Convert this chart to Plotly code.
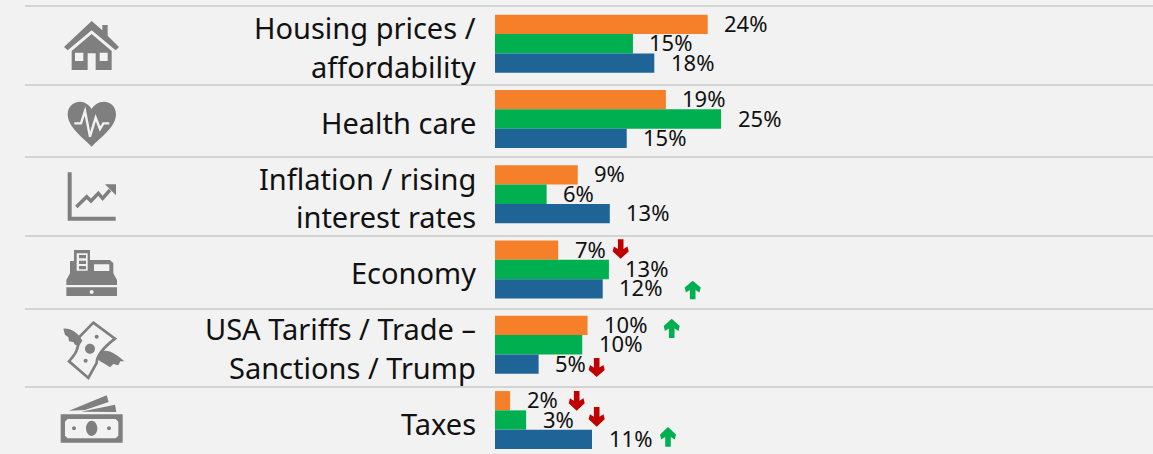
import re
import plotly.graph_objects as go

categories = ["Housing prices /|affordability", "Health care", "Inflation / rising|interest rates",
              "Economy", "USA Tariffs / Trade –|Sanctions / Trump", "Taxes"]
series_orange = [23.9, 19.2, 9.3, 7.1, 10.4, 1.7]
series_green = [15.5, 25.4, 5.8, 12.8, 9.8, 3.5]
series_blue = [17.9, 14.8, 12.9, 12.1, 4.9, 10.9]
labels_orange = ["24%", "19%", "9%", "7%", "10%", "2%"]
labels_green = ["15%", "25%", "6%", "13%", "10%", "3%"]
labels_blue = ["18%", "15%", "13%", "12%", "5%", "11%"]
series_colors = ["#F58029", "#00B050", "#1F6496"]
rule_rows = [6, 85, 157, 236, 309, 387]

W, H, L = 1153, 454, 495
BG, GREY = "#F2F2F2", "#7F7F7F"
PX_PER_PCT = 8.9
PITCH, FIRST = 75.25, 43.75
THICK = 19.3 / PITCH
yidx = list(range(len(categories)))

fig = go.Figure()
for vals, col in zip([series_orange, series_green, series_blue], series_colors):
    fig.add_bar(x=vals, y=yidx, orientation="h", marker=dict(color=col, line_width=0))

annotations = []
FONT = "Noto Sans"
for k, (vals, labs) in enumerate(zip([series_orange, series_green, series_blue],
                                     [labels_orange, labels_green, labels_blue])):
    for i, (v, t) in enumerate(zip(vals, labs)):
        annotations.append(dict(x=v, y=i + (k - 1) * THICK, xref="x", yref="y", text=t, showarrow=False,
                                xanchor="left", yanchor="middle", xshift=14.5, yshift=1.5,
                                font=dict(family=FONT, size=22, color="#111111")))
for i, c in enumerate(categories):
    parts = c.split("|")
    for j, p in enumerate(parts):
        off = (j - (len(parts) - 1) / 2) * 38.5 + 3.8
        annotations.append(dict(x=0, y=i, xref="x", yref="y", text=p, showarrow=False, xanchor="right",
                                yanchor="middle", xshift=-17, yshift=-off + 0.5,
                                font=dict(family=FONT, size=29, color="#111111")))


def pth(ox, oy, s):
    """zoomed icon sketch units (3x) to paper coordinates"""
    toks = re.findall(r"[MLCZ]|-?\d+\.?\d*", s)
    res, isx = "", True
    for t in toks:
        if t in "MLCZ":
            res += t
            isx = True
        else:
            v = float(t)
            if isx:
                res += f"{((ox + v / 3) - L) / (W - L):.5f},"
            else:
                res += f"{1 - (oy + v / 3) / H:.5f} "
            isx = not isx
    return res


def ell(cx, cy, rx, ry=None):
    ry = ry or rx
    k = 0.5523
    return (f"M{cx-rx} {cy} C{cx-rx} {cy-k*ry} {cx-k*rx} {cy-ry} {cx} {cy-ry} "
            f"C{cx+k*rx} {cy-ry} {cx+rx} {cy-k*ry} {cx+rx} {cy} "
            f"C{cx+rx} {cy+k*ry} {cx+k*rx} {cy+ry} {cx} {cy+ry} "
            f"C{cx-k*rx} {cy+ry} {cx-rx} {cy+k*ry} {cx-rx} {cy} Z ")


def rect(a, b, c, d):
    return f"M{a} {b} L{c} {b} L{c} {d} L{a} {d} Z "


shapes = []


def add_fill(ox, oy, s, col=GREY):
    shapes.append(dict(type="path", xref="paper", yref="paper", path=pth(ox, oy, s), fillcolor=col,
                       line=dict(width=0), layer="above"))


def add_line(ox, oy, s, col=GREY, w=2.5):
    shapes.append(dict(type="path", xref="paper", yref="paper", path=pth(ox, oy, s),
                       fillcolor="rgba(0,0,0,0)", line=dict(width=w, color=col), layer="above"))


for r in rule_rows:
    shapes.append(dict(type="line", xref="paper", yref="paper", x0=(25 - L) / (W - L), x1=1,
                       y0=1 - r / H, y1=1 - r / H, line=dict(color="#C9C9C9", width=1.5), layer="below"))

# house
add_fill(55, 15, "M110 18 L142 46 L142 30 L158 30 L158 62 L192 96 L182 106 L110 46 L38 106 L27 96 Z")
add_fill(55, 15, "M50 108 L110 57 L170 108 L170 165 L122 165 L122 115 L98 115 L98 165 L50 165 Z "
         + rect(60, 113, 85, 138) + rect(134, 113, 158, 138))
# heart
add_fill(55, 95, "M110 155 C80 125 38 95 38 58 C38 35 55 20 75 20 C90 20 103 30 110 42 "
                 "C117 30 130 20 147 20 C167 20 183 35 183 58 C183 95 140 125 110 155 Z")
add_line(55, 95, "M58 85 L78 85 L90 48 L105 125 L122 68 L135 102 L145 85 L163 85", BG, 2.4)
# trend chart
add_fill(55, 165, "M38 22 L50 22 L50 155 L182 155 L182 167 L38 167 Z")
add_fill(55, 165, "M150 58 L183 58 L183 91 Z")
add_line(55, 165, "M64 126 L95 95 L108 108 L130 85 L143 100 L165 75", GREY, 3.5)
# cash register
add_fill(55, 245, "M57 15 L105 15 L105 45 L165 45 L175 55 L175 85 L186 105 L186 120 L34 120 L34 105 L45 85 L45 48 L57 48 Z "
         + rect(65, 25, 98, 77) + rect(117, 58, 163, 78))
add_fill(55, 245, rect(72, 30, 93, 40) + rect(72, 47, 93, 57) + rect(72, 63, 93, 73))
add_fill(55, 245, rect(34, 127, 186, 153) + ell(110, 141, 6))
# flying money
add_line(55, 318, "M115 14 L180 62 C150 85 125 110 125 135 L100 180 L42 130 C60 110 72 95 70 60 Z", GREY, 2.7)
add_fill(55, 318, ell(105, 92, 15) + ell(125, 56, 6) + ell(92, 128, 6))
add_fill(55, 318, "M25 32 C45 30 68 42 82 68 L72 84 L60 80 L55 72 L42 70 L40 58 L30 50 Z")
add_fill(55, 318, "M140 100 C165 92 190 115 208 130 L196 130 L190 142 L175 138 L165 148 L150 138 L135 130 L128 122 Z")
# cash
add_fill(55, 390, rect(17, 73, 203, 158) + "M38 87 L182 87 L190 95 L190 137 L182 145 L38 145 L30 137 L30 95 Z")
add_fill(55, 390, ell(110, 115, 17, 23) + ell(57, 115, 6) + ell(162, 115, 6))
add_fill(55, 390, "M42 62 L155 16 L161 36 L90 60 Z")
add_fill(55, 390, "M78 65 L180 44 L184 66 Z")

# change arrows: centre x, top y, bottom y, direction
arrows = [(620.7, 239.3, 258.7, -1), (692.7, 280.7, 299.3, 1), (671.7, 318.7, 338, 1), (596.7, 358, 377, -1),
          (576.7, 391, 410.7, -1), (596.7, 407, 426.7, -1), (668, 427, 446.7, 1)]
for cx, top, bot, d in arrows:
    h = bot - top
    hw, sw = 8, 2.8
    hh = 0.58 * h
    if d < 0:
        pts = [(cx - sw, top), (cx + sw, top), (cx + sw, bot - hh + 1.5), (cx + hw - 1.2, bot - hh - 1), (cx + hw, bot - hh + 4),
               (cx, bot), (cx - hw, bot - hh + 4), (cx - hw + 1.2, bot - hh - 1), (cx - sw, bot - hh + 1.5)]
        col = "#C00000"
    else:
        pts = [(cx - sw, bot), (cx + sw, bot), (cx + sw, top + hh - 1.5), (cx + hw - 1.2, top + hh + 1), (cx + hw, top + hh - 4),
               (cx, top), (cx - hw, top + hh - 4), (cx - hw + 1.2, top + hh + 1), (cx - sw, top + hh - 1.5)]
        col = "#00B050"
    add_fill(0, 0, "M" + " L".join(f"{x * 3:.2f} {y * 3:.2f}" for x, y in pts) + " Z", col)

fig.update_layout(
    width=W, height=H, autosize=False, margin=dict(l=L, r=0, t=0, b=0),
    paper_bgcolor=BG, plot_bgcolor=BG, showlegend=False, barmode="group", bargap=1 - 3 * THICK, bargroupgap=0,
    xaxis=dict(range=[0, (W - L) / PX_PER_PCT], visible=False, fixedrange=True),
    yaxis=dict(range=[(H - FIRST) / PITCH, -FIRST / PITCH], visible=False, fixedrange=True),
    annotations=annotations, shapes=shapes,
)
fig.write_html("out.html", config={"displayModeBar": False},
               post_script="document.body.style.margin='0';document.body.style.overflow='hidden';"
                           "document.documentElement.style.background='#F2F2F2';")
